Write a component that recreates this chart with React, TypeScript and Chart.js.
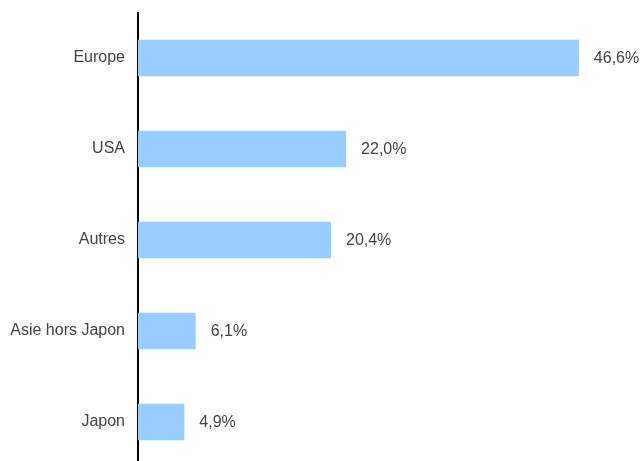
import React, { useEffect, useRef } from "react";
import { Chart, registerables } from "chart.js";

Chart.register(...registerables);

const categories = ["Europe", "USA", "Autres", "Asie hors Japon", "Japon"];
const values = [46.6, 22.0, 20.4, 6.1, 4.9];
const valueLabels = ["46,6%", "22,0%", "20,4%", "6,1%", "4,9%"];

const W = 642;
const H = 470;

export default function App() {
  const ref = useRef<HTMLCanvasElement | null>(null);
  useEffect(() => {
    if (!ref.current) return;
    const labelPlugin = {
      id: "valueLabels",
      afterDatasetsDraw(chart: any) {
        const ctx = chart.ctx;
        const meta = chart.getDatasetMeta(0);
        ctx.save();
        ctx.font = "16px 'Liberation Sans', Arial, sans-serif";
        ctx.fillStyle = "#444444";
        ctx.textAlign = "left";
        ctx.textBaseline = "middle";
        meta.data.forEach((bar: any, i: number) => {
          ctx.fillText(valueLabels[i], bar.x + 15, bar.y + 1);
        });
        ctx.restore();
      },
    };
    const chart = new Chart(ref.current, {
      type: "bar",
      data: {
        labels: categories,
        datasets: [
          {
            data: values,
            backgroundColor: "#99ccff",
            borderWidth: 0,
            categoryPercentage: 0.4,
            barPercentage: 1,
          },
        ],
      },
      options: {
        indexAxis: "y",
        responsive: false,
        animation: false,
        layout: { padding: { top: 12.5, bottom: 2.5, right: 31, left: 0 } },
        plugins: { legend: { display: false }, tooltip: { enabled: false } },
        scales: {
          x: { display: false, min: 0, max: 50 },
          y: {
            afterFit(scale: any) {
              scale.width = 138;
              scale.paddingTop = 0;
              scale.paddingBottom = 0;
            },
            grid: { display: false, drawTicks: false },
            border: { display: true, color: "#000000", width: 2 },
            ticks: {
              padding: 13,
              color: "#444444",
              font: { family: "'Liberation Sans', Arial, sans-serif", size: 16 },
            },
          },
        },
      },
      plugins: [labelPlugin],
    });
    return () => chart.destroy();
  }, []);
  return (
    <div style={{ position: "absolute", left: 0, top: 0, width: W, height: H, background: "#fff" }}>
      <canvas ref={ref} width={W} height={H} style={{ display: "block" }} />
    </div>
  );
}
